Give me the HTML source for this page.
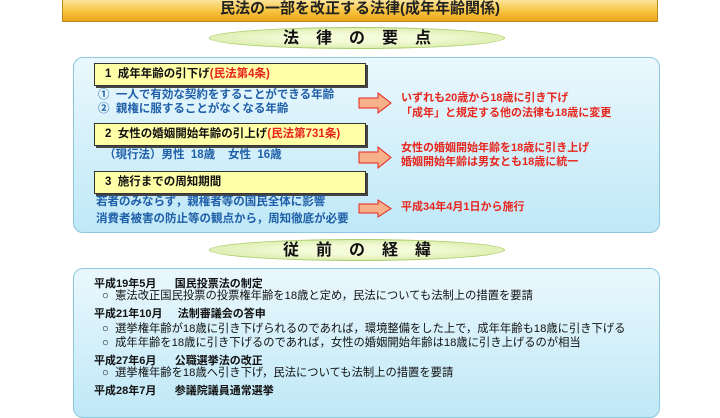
<!DOCTYPE html>
<html><head><meta charset="utf-8"><style>
*{margin:0;padding:0;box-sizing:border-box}
body{width:720px;height:405px;background:#fff;position:relative;overflow:hidden;font-family:"Liberation Sans","Noto Sans CJK JP",sans-serif;}
.a{position:absolute;white-space:nowrap;line-height:1}
.title{left:62px;top:-2px;width:596px;height:24px;background:linear-gradient(#fde6a0,#f7c23a 60%,#eaa51a);border:1px solid #b98a20;text-align:center;font-weight:bold;font-size:15px;line-height:20px;color:#222}
.ell{width:296px;height:22px;border-radius:50%;background:radial-gradient(ellipse at center,#f4fbd8 30%,#cfe79a 100%);border:1px solid #a9cc6a;text-align:center;font-weight:bold;font-size:16px;line-height:21px;letter-spacing:17px;color:#111;padding-left:17px}
.panel{border:1.5px solid #8cc8e0;border-radius:10px;background:linear-gradient(#eaf8fd,#bfe8f7)}
.yb{left:94px;width:272px;height:23px;background:#ffffa8;border:1px solid #333;box-shadow:2px 2px 0 #444;font-weight:bold;font-size:11.5px;line-height:21px;padding-left:10px;color:#111}
.r{color:#e8251c}
.b{color:#1f5fa8;font-weight:bold;font-size:11.5px}
.rt{color:#e8251c;font-weight:bold;font-size:11px}
.k{color:#111;font-weight:bold;font-size:11px}
.t{color:#111;font-size:11.3px}
</style></head><body>
<div class="a title">民法の一部を改正する法律(成年年齢関係)</div>
<div class="a ell" style="left:209px;top:27px">法律の要点</div>
<div class="a panel" style="left:73px;top:57px;width:587px;height:176px"></div>
<div class="a yb" style="top:63px">1&nbsp; 成年年齢の引下げ<span class="r">(民法第4条)</span></div>
<div class="a b" style="left:98px;top:90px">①&nbsp; 一人で有効な契約をすることができる年齢</div>
<div class="a b" style="left:98px;top:104px">②&nbsp; 親権に服することがなくなる年齢</div>
<div class="a yb" style="top:123px">2&nbsp; 女性の婚姻開始年齢の引上げ<span class="r">(民法第731条)</span></div>
<div class="a b" style="left:104px;top:150px">（現行法）男性&nbsp; 18歳&nbsp;&nbsp;&nbsp; 女性&nbsp; 16歳</div>
<div class="a yb" style="top:171px">3&nbsp; 施行までの周知期間</div>
<div class="a b" style="left:96px;top:197px">若者のみならず，親権者等の国民全体に影響</div>
<div class="a b" style="left:96px;top:214px">消費者被害の防止等の観点から，周知徹底が必要</div>
<svg class="a" style="left:0;top:0" width="720" height="405">
<g fill="#f6b08a" stroke="#e8251c" stroke-width="1">
<polygon points="359,98 378,98 378,93 391,103 378,113 378,108 359,108"/>
<polygon points="359,152 378,152 378,147 391,157.5 378,168 378,163 359,163"/>
<polygon points="359,204 378,204 378,200 391,208.5 378,217 378,213 359,213"/>
</g></svg>
<div class="a rt" style="left:401px;top:93px">いずれも20歳から18歳に引き下げ</div>
<div class="a rt" style="left:401px;top:108px">「成年」と規定する他の法律も18歳に変更</div>
<div class="a rt" style="left:401px;top:143px">女性の婚姻開始年齢を18歳に引き上げ</div>
<div class="a rt" style="left:401px;top:157px">婚姻開始年齢は男女とも18歳に統一</div>
<div class="a rt" style="left:401px;top:202px">平成34年4月1日から施行</div>
<div class="a ell" style="left:209px;top:239px">従前の経緯</div>
<div class="a panel" style="left:73px;top:268px;width:587px;height:150px"></div>
<div class="a k" style="left:94px;top:279px">平成19年5月&nbsp;&nbsp;&nbsp;&nbsp;&nbsp; 国民投票法の制定</div>
<div class="a t" style="left:102px;top:291px">○&nbsp; 憲法改正国民投票の投票権年齢を18歳と定め，民法についても法制上の措置を要請</div>
<div class="a k" style="left:94px;top:309px">平成21年10月&nbsp;&nbsp;&nbsp;&nbsp; 法制審議会の答申</div>
<div class="a t" style="left:102px;top:324px">○&nbsp; 選挙権年齢が18歳に引き下げられるのであれば，環境整備をした上で，成年年齢も18歳に引き下げる</div>
<div class="a t" style="left:102px;top:338px">○&nbsp; 成年年齢を18歳に引き下げるのであれば，女性の婚姻開始年齢は18歳に引き上げるのが相当</div>
<div class="a k" style="left:94px;top:356px">平成27年6月&nbsp;&nbsp;&nbsp;&nbsp;&nbsp; 公職選挙法の改正</div>
<div class="a t" style="left:102px;top:368px">○&nbsp; 選挙権年齢を18歳へ引き下げ，民法についても法制上の措置を要請</div>
<div class="a k" style="left:94px;top:386px">平成28年7月&nbsp;&nbsp;&nbsp;&nbsp;&nbsp; 参議院議員通常選挙</div>
</body></html>
